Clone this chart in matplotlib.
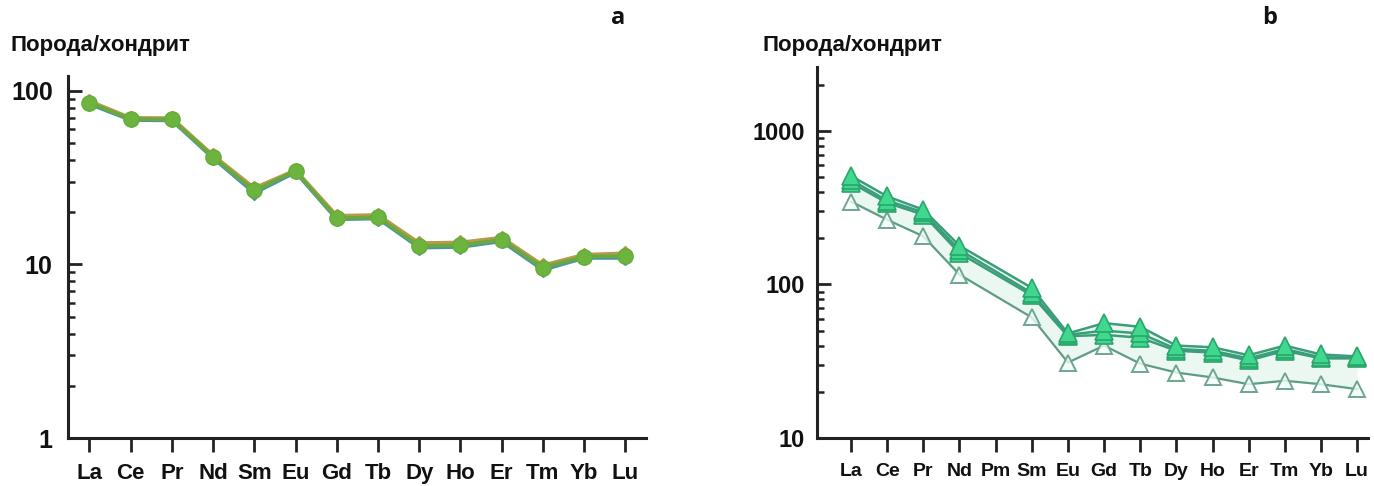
import numpy as np
import matplotlib
matplotlib.use("Agg")
import matplotlib.pyplot as plt
from matplotlib.ticker import LogLocator, NullFormatter, FixedLocator, FixedFormatter

plt.rcParams['font.family'] = ['Liberation Sans', 'DejaVu Sans']

# ---------------- data ----------------
ree_a = ["La", "Ce", "Pr", "Nd", "Sm", "Eu", "Gd", "Tb", "Dy", "Ho", "Er", "Tm", "Yb", "Lu"]
a_green = [85.6, 68.9, 68.6, 41.7, 26.7, 34.6, 18.5, 18.7, 12.8, 12.9, 13.9, 9.6, 11.1, 11.2]
a_orange = [87.5, 70.0, 69.8, 42.6, 27.6, 35.0, 19.1, 19.3, 13.3, 13.4, 14.3, 9.9, 11.4, 11.6]
a_blue = [84.0, 68.0, 67.6, 41.0, 25.8, 34.0, 18.2, 18.4, 12.5, 12.6, 13.6, 9.3, 10.9, 10.9]

ree_b = ["La", "Ce", "Pr", "Nd", "Pm", "Sm", "Eu", "Gd", "Tb", "Dy", "Ho", "Er", "Tm", "Yb", "Lu"]
b_fill1 = [510, 375, 307, 179, np.nan, 95, 48, 56, 53, 40, 39, 34.6, 40, 35, 34]
b_fill2 = [480, 352, 295, 168, np.nan, 88, 47, 50, 48, 38, 37, 33, 38, 33.5, 33.5]
b_fill3 = [460, 340, 285, 160, np.nan, 85, 46, 47, 45, 37, 36, 32, 37, 33, 33]
b_open = [347, 264, 206, 116, np.nan, 61, 31, 40, 30.5, 26.7, 24.8, 22.4, 23.6, 22.4, 20.8]

yticks_a = [1, 10, 100]
yticks_b = [10, 100, 1000]

# ---------------- figure ----------------
fig = plt.figure(figsize=(13.74, 4.86), dpi=100)

def style_axes(ax, tick_fs, xlab_fs, ypad):
    for s in ("top", "right"):
        ax.spines[s].set_visible(False)
    for s in ("left", "bottom"):
        ax.spines[s].set_linewidth(2.2)
        ax.spines[s].set_color("#222222")
    ax.tick_params(axis="y", which="major", direction="in", length=10, width=2,
                   colors="#222222", labelsize=tick_fs, pad=ypad)
    ax.tick_params(axis="y", which="minor", direction="in", length=5, width=1.8,
                   colors="#222222")
    ax.tick_params(axis="x", which="major", direction="out", length=10, width=2,
                   colors="#222222", labelsize=xlab_fs, pad=8)
    for lab in ax.get_yticklabels() + ax.get_xticklabels():
        lab.set_fontweight("bold")
        lab.set_color("#111111")

# ---------- panel a ----------
axa = fig.add_axes([68/1374, (486-438)/486, (646-68)/1374, (438-76)/486])
xa = np.arange(len(ree_a))
axa.plot(xa, a_orange, color="#b89a4c", lw=2.6, marker="D", ms=7,
         mfc="#b89a4c", mec="#b89a4c", zorder=2)
axa.plot(xa, a_blue, color="#4f93a8", lw=2.6, marker="D", ms=7,
         mfc="#4f93a8", mec="#4f93a8", zorder=3)
axa.plot(xa, a_green, color="#6aaa3c", lw=2.6, marker="o", ms=11,
         mfc="#6db43e", mec="#66ac3a", zorder=4)
axa.set_yscale("log")
axa.set_ylim(1, 122)
axa.set_xlim(-0.52, 13.5)
axa.yaxis.set_major_locator(FixedLocator(yticks_a))
axa.yaxis.set_major_formatter(FixedFormatter([str(v) for v in yticks_a]))
axa.yaxis.set_minor_locator(LogLocator(base=10, subs=np.arange(2, 10)))
axa.yaxis.set_minor_formatter(NullFormatter())
axa.set_xticks(xa)
axa.set_xticklabels(ree_a)
style_axes(axa, 18, 16, 11)

# ---------- panel b ----------
axb = fig.add_axes([817/1374, (486-438)/486, (1368-817)/1374, (438-67)/486])
xb = np.arange(len(ree_b))

def valid(vals):
    v = np.array(vals, dtype=float)
    m = ~np.isnan(v)
    return xb[m], v[m]

xo, vo = valid(b_open)
x1, v1 = valid(b_fill1)
x2, v2 = valid(b_fill2)
x3, v3 = valid(b_fill3)
axb.fill_between(xo, vo, np.maximum(np.maximum(v1, v2), v3),
                 color="#ebf8f1", lw=0, zorder=1)
axb.plot(xo, vo, color="#5f9c88", lw=1.6, marker="^", ms=12,
         mfc=(0.95, 1, 0.97, 0.8), mec="#6fa592", mew=1.4, zorder=2)
for xv, vv in ((x3, v3), (x2, v2), (x1, v1)):
    axb.plot(xv, vv, color="#3a9e7a", lw=1.8, marker="^", ms=13,
             mfc="#3fd88e", mec="#2ba56c", mew=1.2, zorder=3)
axb.set_yscale("log")
axb.set_ylim(10, 2610)
axb.set_xlim(-0.94, 14.3)
axb.yaxis.set_major_locator(FixedLocator(yticks_b))
axb.yaxis.set_major_formatter(FixedFormatter([str(v) for v in yticks_b]))
axb.yaxis.set_minor_locator(LogLocator(base=10, subs=np.arange(2, 10)))
axb.yaxis.set_minor_formatter(NullFormatter())
axb.set_xticks(xb)
axb.set_xticklabels(ree_b)
style_axes(axb, 17, 14, 9)

# ---------- texts ----------
fig.text(10/1374, 1 - 45/486, "Порода/хондрит", fontsize=16, fontweight="bold",
         color="#111111", va="center", ha="left")
fig.text(762/1374, 1 - 45/486, "Порода/хондрит", fontsize=16, fontweight="bold",
         color="#111111", va="center", ha="left")
fig.text(618/1374, 1 - 18/486, "a", fontsize=17, fontweight="bold",
         family=["Open Sans", "DejaVu Sans"], color="#111111", va="center", ha="center")
fig.text(1270/1374, 1 - 18/486, "b", fontsize=17, fontweight="bold",
         family=["Open Sans", "DejaVu Sans"], color="#111111", va="center", ha="center")

fig.savefig("out.png", dpi=100)
